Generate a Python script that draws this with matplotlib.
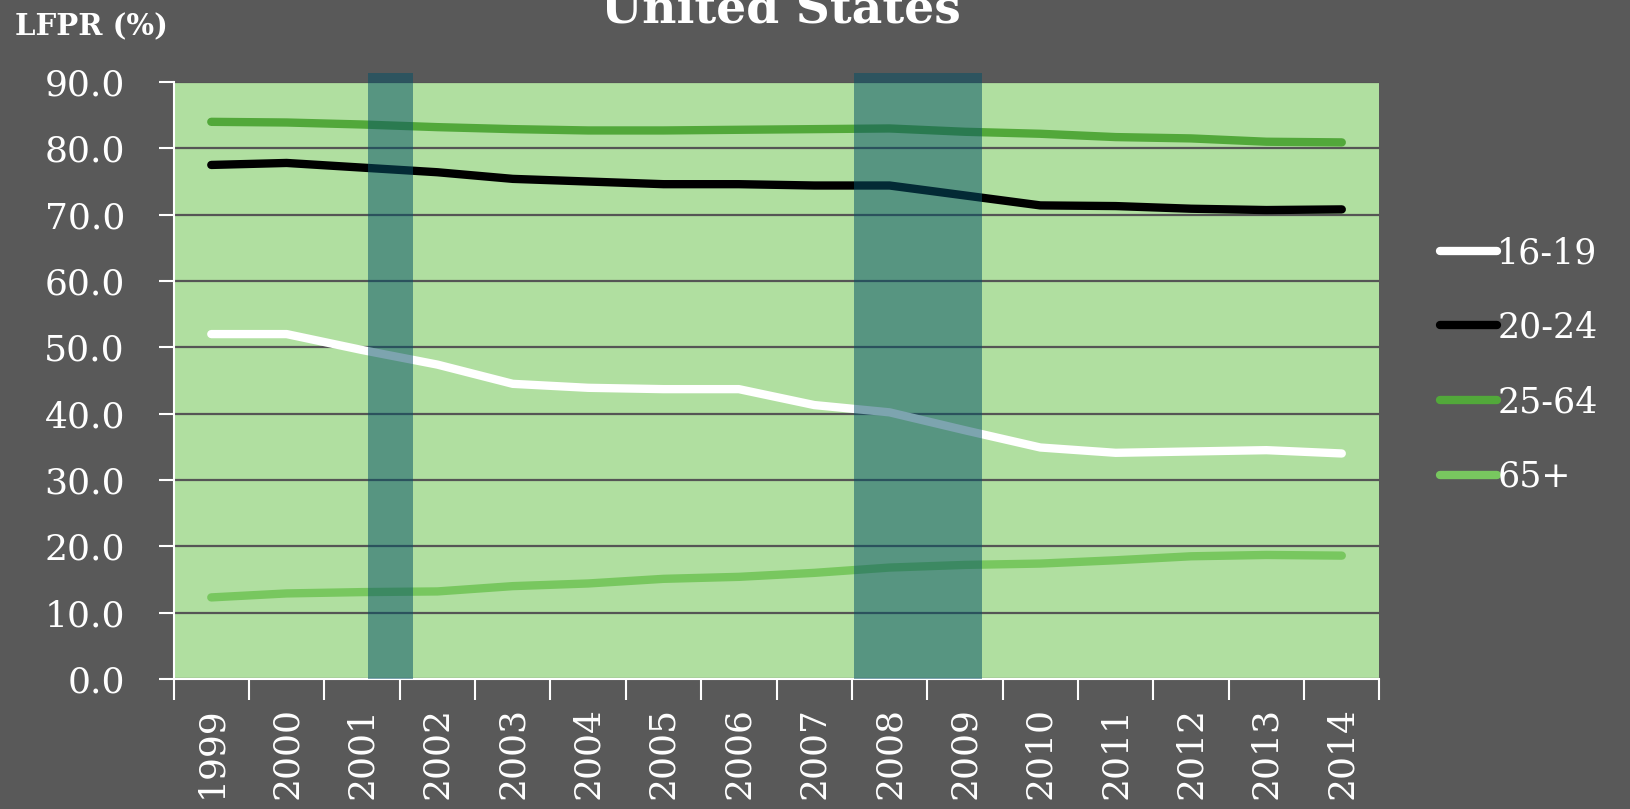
import numpy as np
import matplotlib.pyplot as plt

years = list(range(1999, 2015))
lfpr_16_19 = [52.0, 52.0, 49.6, 47.4, 44.5, 43.9, 43.7, 43.7, 41.3, 40.2, 37.5, 34.9, 34.1, 34.3, 34.5, 34.0]
lfpr_20_24 = [77.5, 77.8, 77.1, 76.4, 75.4, 75.0, 74.6, 74.6, 74.4, 74.4, 72.9, 71.4, 71.3, 70.9, 70.7, 70.8]
lfpr_25_64 = [84.0, 83.9, 83.6, 83.2, 82.9, 82.7, 82.7, 82.8, 82.9, 83.0, 82.5, 82.2, 81.7, 81.5, 81.0, 80.9]
lfpr_65 = [12.3, 12.9, 13.1, 13.2, 14.0, 14.4, 15.1, 15.4, 16.0, 16.8, 17.2, 17.4, 17.9, 18.5, 18.7, 18.6]
series_names = ['16-19', '20-24', '25-64', '65+']
series_colors = ['white', 'black', '#52a83a', '#78c75f']
recessions = [(2001.08, 2001.68), (2007.53, 2009.23)]
yticks = [0, 10, 20, 30, 40, 50, 60, 70, 80, 90]

bg = '#595959'
font = 'DejaVu Serif'
plt.rcParams['font.family'] = font

fig = plt.figure(figsize=(16.3, 8.09), dpi=100, facecolor=bg)
ax = fig.add_axes([0.1065, 0.1607, 0.7398, 0.7379])
ax.set_facecolor('#b0dfa0')

for vals, name, col in zip([lfpr_16_19, lfpr_20_24, lfpr_25_64, lfpr_65], series_names, series_colors):
    ax.plot(years, vals, color=col, lw=6, label=name, solid_capstyle='round', zorder=3)

for x0, x1 in recessions:
    ax.fill_between([x0, x1], 0, 91.3, color='#065166', alpha=0.52, lw=0, zorder=4, clip_on=False)

ax.set_xlim(1998.5, 2014.5)
ax.set_ylim(0, 90)
ax.set_yticks(yticks)
ax.set_yticklabels([f'{v:.1f}' for v in yticks])
ax.set_xticks(np.arange(1998.5, 2015, 1))
ax.set_xticklabels([])
ax.set_xticks(years, minor=True)
ax.set_xticklabels([str(y) for y in years], minor=True, rotation=90)
ax.tick_params(axis='x', which='major', length=15, width=1.5, color='white', direction='out')
ax.tick_params(axis='x', which='minor', length=0, pad=20, labelsize=26, labelcolor='white')
ax.tick_params(axis='y', length=11, width=1.5, color='white', pad=24, labelsize=26, labelcolor='white')
ax.grid(axis='y', color='#555555', lw=1.6, zorder=1)
ax.set_axisbelow(True)
for s in ['top', 'right']:
    ax.spines[s].set_visible(False)
for s in ['left', 'bottom']:
    ax.spines[s].set_color('white')
    ax.spines[s].set_linewidth(1.5)

fig.text(0.479, 0.972, 'United States', ha='center', va='baseline', color='white',
         fontsize=34, fontweight='bold')
fig.text(0.009, 0.967, 'LFPR (%)', ha='left', va='center', color='white',
         fontsize=21, fontweight='bold')

leg = fig.legend(loc='upper left', bbox_to_anchor=(1440 / 1630, 1 - 236 / 809), frameon=False,
                 fontsize=25, handlelength=1.65, handletextpad=0.0, labelspacing=1.17,
                 borderpad=0, borderaxespad=0)
for t in leg.get_texts():
    t.set_color('white')

fig.savefig('out.png', dpi=100, facecolor=bg)
